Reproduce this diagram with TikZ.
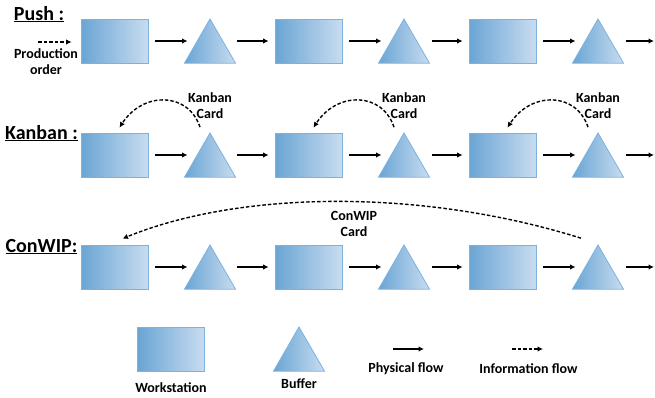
\documentclass[tikz,border=0pt]{standalone}
\usepackage{fontspec}
\setmainfont{Carlito}
\usetikzlibrary{shapes,arrows.meta}

\definecolor{wsdark}{RGB}{106,165,212}
\definecolor{wslight}{RGB}{200,220,240}
\definecolor{wsborder}{RGB}{125,178,224}

\tikzset{
  station/.style={rectangle,draw=wsborder,line width=0.8pt,left color=wsdark,right color=wslight,
    minimum width=67pt,minimum height=44pt,inner sep=0pt},
  buffer/.style={regular polygon,regular polygon sides=3,draw=wsborder,line width=0.8pt,
    left color=wsdark,right color=wslight,minimum size=59pt,inner sep=0pt},
  flow/.style={-{Latex[length=5.5pt,width=5.5pt]},line width=1.5pt},
  info/.style={flow,line width=1.4pt,dash pattern=on 3.5pt off 2pt},
  lbl/.style={font=\fontsize{14}{16}\selectfont\bfseries,align=center,inner sep=0pt},
  title/.style={font=\fontsize{20}{22}\selectfont\bfseries,inner sep=0pt,anchor=base}
}

\begin{document}
\begin{tikzpicture}[x=1pt,y=-1pt]
\useasboundingbox (0,0) rectangle (655,397);

% three lines: workstations and buffers
\foreach \r/\y in {p/41,k/155,c/267}{
  \foreach \i/\x in {1/114.5,2/308.5,3/502.5}{
    \node[station] (ws-\r\i) at (\x,\y) {};
    \node[buffer] (bf-\r\i) at (\x+95.5,\y+7.45) {};
    \draw[flow,shorten <=7pt,shorten >=5pt] (ws-\r\i.east) -- (ws-\r\i.east -| bf-\r\i.west);
  }
  \foreach \i/\j in {1/2,2/3}{
    \draw[flow,shorten <=10pt,shorten >=6pt] (bf-\r\i.east |- ws-\r\j.west) -- (ws-\r\j.west);
  }
  \coordinate (end-\r) at (654,\y);
  \draw[flow,shorten <=10pt] (bf-\r3.east |- end-\r) -- (end-\r);
}

% titles
\node[title] (t-push) at (39,20) {\underline{Push :}};
\node[title] (t-kanban) at (41.5,139) {\underline{Kanban :}};
\node[title] (t-conwip) at (41.5,252) {\underline{ConWIP:}};

% push: production order
\coordinate (po) at (38,42);
\draw[info,shorten >=9pt] (po) -- (po -| ws-p1.west);
\node[lbl] (po-txt) at (46,62) {Production\\order};

% kanban cards
\foreach \i in {1,2,3}{
  \draw[info] ([shift={(-10,-5)}]bf-k\i.north) .. controls +(-12,-36) and +(23,-36) .. ([shift={(5,-5)}]ws-k\i.north);
  \node[lbl] (kc-\i) at ([yshift=27pt]bf-k\i.north) {Kanban\\Card};
}

% conwip card
\draw[info] ([shift={(-17,-6)}]bf-c3.north) .. controls +(-160,-50) and +(117.5,-48) .. ([shift={(8,-6)}]ws-c1.north);
\node[lbl] (cc) at (354,224) {ConWIP\\Card};

% legend
\node[station] (lg-ws) at (171,349.5) {};
\node[buffer] (lg-bf) at (299,356.45) {};
\node[lbl] (lg-ws-txt) at (171,388) {Workstation};
\node[lbl] (lg-bf-txt) at (299,384) {Buffer};
\coordinate (lp-a) at (393,349);
\coordinate (lp-b) at (424,349);
\coordinate (li-a) at (512,349);
\coordinate (li-b) at (543,349);
\draw[flow] (lp-a) -- (lp-b);
\draw[info] (li-a) -- (li-b);
\node[lbl] (lp-txt) at (406,369) {Physical flow};
\node[lbl] (li-txt) at (528.5,369) {Information flow};
\end{tikzpicture}
\end{document}
